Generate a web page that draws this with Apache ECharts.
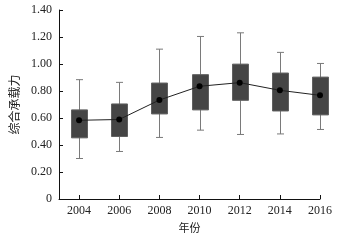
<!DOCTYPE html>
<html><head><meta charset="utf-8">
<script src="https://cdn.jsdelivr.net/npm/echarts@6/dist/echarts.min.js"></script>
<style>html,body{margin:0;padding:0;background:#fff}#c{width:352px;height:240px}</style>
</head><body><div id="c"></div>
<script>
const years = [2004, 2006, 2008, 2010, 2012, 2014, 2016];
const whiskerMin = [0.30, 0.352, 0.456, 0.51, 0.478, 0.482, 0.515];
const q1 = [0.453, 0.463, 0.63, 0.66, 0.731, 0.652, 0.623];
const q3 = [0.66, 0.704, 0.859, 0.921, 0.999, 0.933, 0.903];
const whiskerMax = [0.884, 0.864, 1.11, 1.204, 1.231, 1.086, 1.004];
const means = [0.583, 0.589, 0.733, 0.835, 0.862, 0.805, 0.768];

const boxData = years.map((y, i) => [y, whiskerMin[i], q1[i], q3[i], whiskerMax[i]]);
const meanData = years.map((y, i) => [y, means[i]]);

const font = '"Liberation Serif", "Times New Roman", serif';
const cjk = '"Noto Sans CJK SC", sans-serif';

const chart = echarts.init(document.getElementById('c'), null, {renderer: 'canvas'});
chart.setOption({
  animation: false,
  backgroundColor: '#fff',
  grid: {left: 59, right: 32, top: 10, bottom: 41},
  xAxis: {
    type: 'value', min: 2003, max: 2016,
    name: '年份', nameLocation: 'middle', nameGap: 22,
    nameTextStyle: {fontFamily: cjk, fontSize: 11, color: '#222'},
    axisLine: {show: true, lineStyle: {color: '#111', width: 1}},
    axisTick: {show: true, inside: true, length: 4, customValues: years, lineStyle: {color: '#111'}},
    axisLabel: {customValues: years, fontFamily: font, fontSize: 12, color: '#222', margin: 6,
      formatter: v => String(v)},
    splitLine: {show: false}
  },
  yAxis: {
    type: 'value', min: 0, max: 1.4, interval: 0.2,
    name: '综合承载力', nameLocation: 'middle', nameGap: 38, nameRotate: 90,
    nameTextStyle: {fontFamily: cjk, fontSize: 12, color: '#222'},
    axisLine: {show: true, lineStyle: {color: '#111', width: 1}},
    axisTick: {show: true, inside: true, length: 4, lineStyle: {color: '#111'}},
    axisLabel: {fontFamily: font, fontSize: 12, color: '#222', margin: 7,
      formatter: v => v === 0 ? '0' : v.toFixed(2)},
    splitLine: {show: false}
  },
  series: [
    {
      type: 'custom',
      data: boxData,
      encode: {x: 0, y: [1, 2, 3, 4]},
      renderItem: function (params, api) {
        const x = api.value(0);
        const pMin = api.coord([x, api.value(1)]);
        const pQ1 = api.coord([x, api.value(2)]);
        const pQ3 = api.coord([x, api.value(3)]);
        const pMax = api.coord([x, api.value(4)]);
        const half = 8;
        const cap = 3.5;
        const cx = Math.round(pMin[0]) + 0.5;
        const ws = {stroke: '#7a7a7a', lineWidth: 1};
        return {
          type: 'group',
          children: [
            {type: 'line', shape: {x1: cx, y1: pMin[1], x2: cx, y2: pMax[1]}, style: ws},
            {type: 'line', shape: {x1: cx - cap, y1: pMin[1], x2: cx + cap, y2: pMin[1]}, style: ws},
            {type: 'line', shape: {x1: cx - cap, y1: pMax[1], x2: cx + cap, y2: pMax[1]}, style: ws},
            {type: 'rect', shape: {x: cx - half, y: pQ3[1], width: 2 * half, height: pQ1[1] - pQ3[1]},
              style: {fill: '#454545', stroke: '#606060', lineWidth: 1}}
          ]
        };
      },
      z: 2
    },
    {
      type: 'line',
      data: meanData,
      symbol: 'circle',
      symbolSize: 6,
      itemStyle: {color: '#000'},
      lineStyle: {color: '#222', width: 1},
      z: 3
    }
  ]
});
</script></body></html>
